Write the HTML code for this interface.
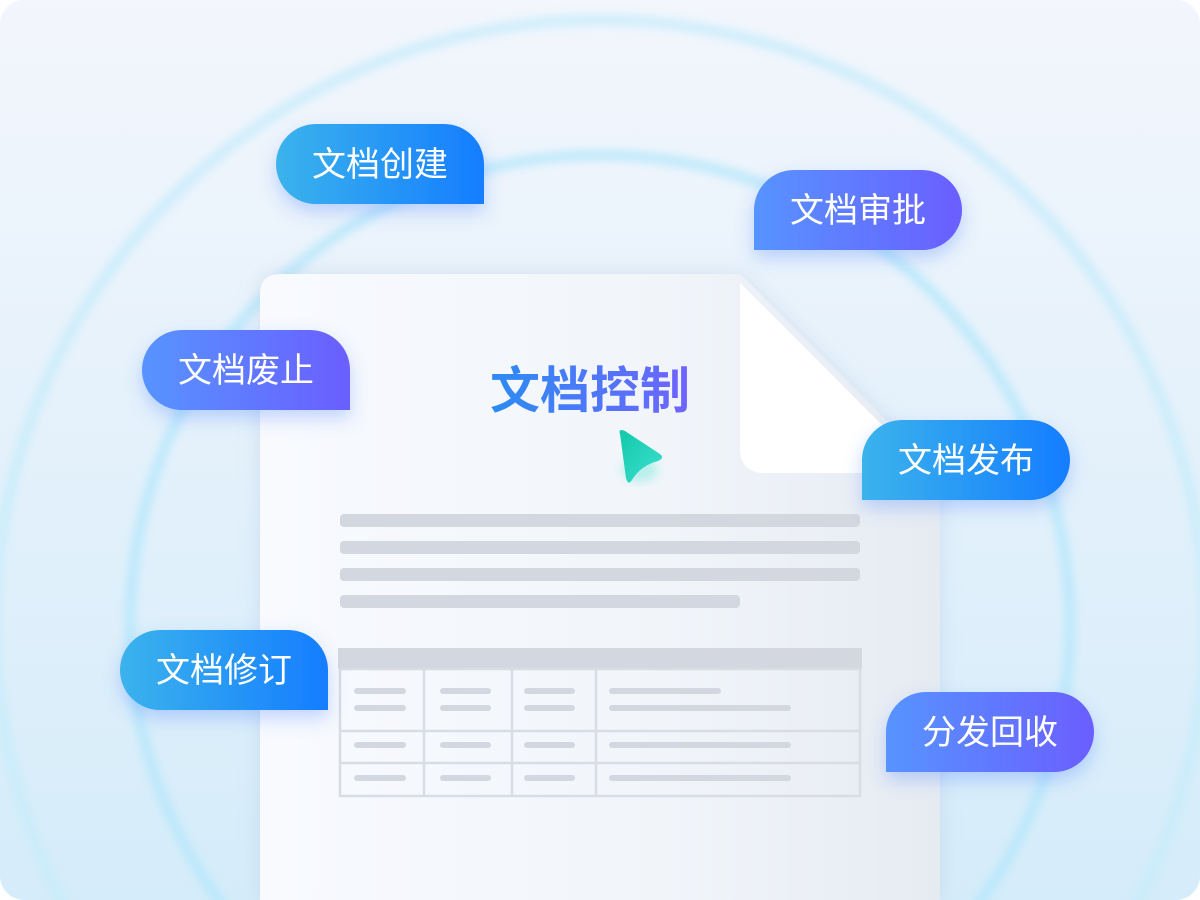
<!DOCTYPE html>
<html><head><meta charset="utf-8"><style>
html,body{margin:0;padding:0;width:1200px;height:900px;overflow:hidden;background:#fff}
svg{position:absolute;left:0;top:0}
</style></head><body>
<svg width="1200" height="900" viewBox="0 0 1200 900" xmlns="http://www.w3.org/2000/svg" style="display:block">
<defs>
<linearGradient id="bg" x1="0" y1="0" x2="0" y2="1"><stop offset="0" stop-color="#f3f6fc"/><stop offset="1" stop-color="#d5ecfa"/></linearGradient>
<linearGradient id="blue" x1="0" y1="0" x2="1" y2="0"><stop offset="0" stop-color="#3bb3ec"/><stop offset="1" stop-color="#157dff"/></linearGradient>
<linearGradient id="purp" x1="0" y1="0" x2="1" y2="0"><stop offset="0" stop-color="#5794ff"/><stop offset="1" stop-color="#6a5eff"/></linearGradient>
<linearGradient id="title" x1="0" y1="0" x2="1" y2="0"><stop offset="0" stop-color="#2b8cf2"/><stop offset="1" stop-color="#6f63ff"/></linearGradient>
<linearGradient id="doc" x1="0" y1="0" x2="1" y2="0"><stop offset="0" stop-color="#f8fafe"/><stop offset="0.6" stop-color="#f1f5fa"/><stop offset="1" stop-color="#e6ebf2"/></linearGradient>
<linearGradient id="ar" x1="0" y1="0" x2="1" y2="1"><stop offset="0" stop-color="#12c8a8"/><stop offset="1" stop-color="#3de0d0"/></linearGradient>
<filter id="blur" x="-20%" y="-20%" width="140%" height="140%"><feGaussianBlur stdDeviation="5"/></filter>
<filter id="sh" x="-30%" y="-30%" width="160%" height="180%"><feDropShadow dx="0" dy="8" stdDeviation="9" flood-color="#3d7cff" flood-opacity="0.3"/></filter>
<filter id="dsh" x="-10%" y="-10%" width="120%" height="120%"><feDropShadow dx="0" dy="0" stdDeviation="10" flood-color="#9bb4d6" flood-opacity="0.3"/></filter>
</defs>
<rect x="0" y="0" width="1200" height="900" rx="24" fill="url(#bg)"/>
<circle cx="600" cy="625" r="605" fill="none" stroke="#c6ecfb" stroke-width="9" filter="url(#blur)"/>
<circle cx="600" cy="625" r="470" fill="none" stroke="#b0e6fb" stroke-width="8" filter="url(#blur)"/>
<path d="M280 274 H740 L940 474 V900 H260 V294 Q260 274 280 274Z" fill="url(#doc)" filter="url(#dsh)"/>
<path d="M740 283 L885 428 L885 473 H765 Q740 473 740 448Z" fill="#fff"/>
<text x="590" y="408" text-anchor="middle" font-family="Liberation Sans, Noto Sans CJK SC, sans-serif" font-size="50" font-weight="bold" fill="url(#title)">文档控制</text>
<ellipse cx="640" cy="470" rx="18" ry="12" fill="#7ee8dc" opacity="0.5" filter="url(#blur)"/>
<path d="M620 434 Q618 428 625 431 L660 454 Q665 458 658 461 Q640 466 632 480 Q628 486 626 478 Z" fill="url(#ar)"/>
<g fill="#d3d8e0">
<rect x="340" y="514" width="520" height="13" rx="4"/>
<rect x="340" y="541" width="520" height="13" rx="4"/>
<rect x="340" y="568" width="520" height="13" rx="4"/>
<rect x="340" y="595" width="400" height="13" rx="4"/>
<rect x="338" y="648" width="524" height="21"/>
</g>
<g fill="none" stroke="#d8dce3" stroke-width="2.5">
<rect x="340" y="669" width="520" height="127"/>
<line x1="340" y1="731" x2="860" y2="731"/><line x1="340" y1="763" x2="860" y2="763"/>
<line x1="424" y1="669" x2="424" y2="796"/><line x1="512" y1="669" x2="512" y2="796"/><line x1="596" y1="669" x2="596" y2="796"/>
</g>
<g stroke="#d3d8e0" stroke-width="6" stroke-linecap="round">
<line x1="357" y1="691" x2="403" y2="691"/><line x1="357" y1="708" x2="403" y2="708"/>
<line x1="443" y1="691" x2="488" y2="691"/><line x1="443" y1="708" x2="488" y2="708"/>
<line x1="527" y1="691" x2="572" y2="691"/><line x1="527" y1="708" x2="572" y2="708"/>
<line x1="612" y1="691" x2="718" y2="691"/><line x1="612" y1="708" x2="788" y2="708"/>
<line x1="357" y1="745" x2="403" y2="745"/><line x1="443" y1="745" x2="488" y2="745"/><line x1="527" y1="745" x2="572" y2="745"/><line x1="612" y1="745" x2="788" y2="745"/>
<line x1="357" y1="778" x2="403" y2="778"/><line x1="443" y1="778" x2="488" y2="778"/><line x1="527" y1="778" x2="572" y2="778"/><line x1="612" y1="778" x2="788" y2="778"/>
</g>
<g font-family="Liberation Sans, Noto Sans CJK SC, sans-serif" font-size="34" fill="#fff" text-anchor="middle">
<path filter="url(#sh)" fill="url(#blue)" d="M316 124 H444 A40 40 0 0 1 484 164 V204 H316 A40 40 0 0 1 316 124Z"/>
<text x="380" y="176">文档创建</text>
<path filter="url(#sh)" fill="url(#purp)" d="M182 330 H310 A40 40 0 0 1 350 370 V410 H182 A40 40 0 0 1 182 330Z"/>
<text x="246" y="382">文档废止</text>
<path filter="url(#sh)" fill="url(#blue)" d="M160 630 H288 A40 40 0 0 1 328 670 V710 H160 A40 40 0 0 1 160 630Z"/>
<text x="224" y="682">文档修订</text>
<path filter="url(#sh)" fill="url(#purp)" d="M794 170 H922 A40 40 0 0 1 922 250 H754 V210 A40 40 0 0 1 794 170Z"/>
<text x="858" y="222">文档审批</text>
<path filter="url(#sh)" fill="url(#blue)" d="M902 420 H1030 A40 40 0 0 1 1030 500 H862 V460 A40 40 0 0 1 902 420Z"/>
<text x="966" y="472">文档发布</text>
<path filter="url(#sh)" fill="url(#purp)" d="M926 692 H1054 A40 40 0 0 1 1054 772 H886 V732 A40 40 0 0 1 926 692Z"/>
<text x="990" y="744">分发回收</text>
</g>
</svg>
</body></html>
